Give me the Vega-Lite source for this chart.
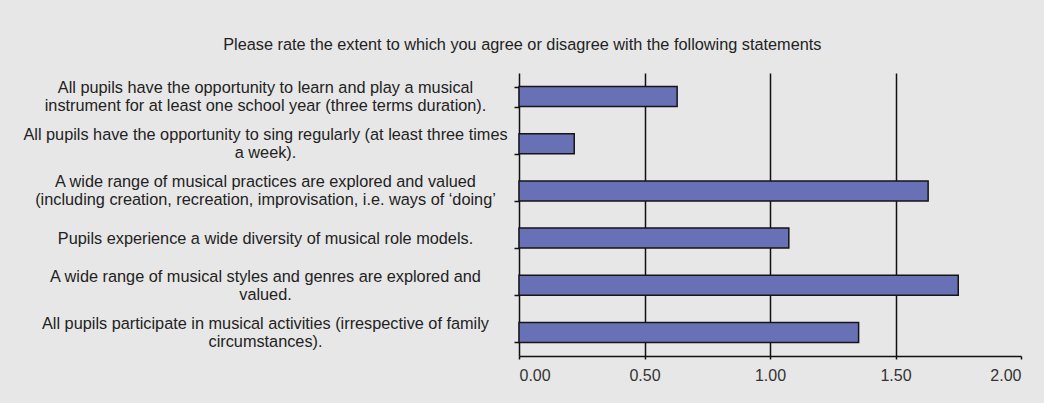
{
  "$schema": "https://vega.github.io/schema/vega-lite/v6.json",
  "width": 502,
  "height": 283,
  "autosize": {"type": "none"},
  "padding": {"left": 519, "top": 73, "right": 23, "bottom": 47},
  "background": "#e7e7e7",
  "title": {
    "text": "Please rate the extent to which you agree or disagree with the following statements",
    "anchor": "middle",
    "frame": "bounds",
    "font": "Liberation Sans",
    "fontSize": 16.3,
    "fontWeight": "normal",
    "color": "#222222",
    "offset": 12
  },
  "data": {
    "values": [
      {"statement": "All pupils have the opportunity to learn and play a musical\ninstrument for at least one school year (three terms duration).", "score": 0.63},
      {"statement": "All pupils have the opportunity to sing regularly (at least three times\na week).", "score": 0.22},
      {"statement": "A wide range of musical practices are explored and valued\n(including creation, recreation, improvisation, i.e. ways of ‘doing’", "score": 1.63},
      {"statement": "Pupils experience a wide diversity of musical role models.", "score": 1.075},
      {"statement": "A wide range of musical styles and genres are explored and\nvalued.", "score": 1.75},
      {"statement": "All pupils participate in musical activities (irrespective of family\ncircumstances).", "score": 1.353}
    ]
  },
  "mark": {"type": "bar", "fill": "#6871b6", "stroke": "#151515", "strokeWidth": 1.5},
  "encoding": {
    "y": {
      "field": "statement",
      "type": "nominal",
      "sort": null,
      "scale": {"paddingInner": 0.575, "paddingOuter": 0.2875},
      "axis": {
        "title": null,
        "labelExpr": "isValid(datum.value) ? split(datum.value, '\\n') : ''",
        "labelOffset": {"condition": {"test": "isValid(datum.value) && indexof(datum.value, '\\n') >= 0", "value": -9}, "value": 0},
        "labelFont": "Liberation Sans",
        "labelFontSize": 16.3,
        "labelColor": "#222222",
        "labelLineHeight": 18,
        "labelLimit": 0,
        "labelAlign": "center",
        "labelPadding": 249,
        "tickBand": "extent",
        "tickSize": 5,
        "tickColor": "#111111",
        "tickWidth": 1.5,
        "domainColor": "#111111",
        "domainWidth": 1.5,
        "grid": false
      }
    },
    "x": {
      "field": "score",
      "type": "quantitative",
      "scale": {"domain": [0, 2], "nice": false, "zero": true},
      "axis": {
        "title": null,
        "values": [0, 0.5, 1, 1.5, 2],
        "format": ".2f",
        "labelFont": "Liberation Sans",
        "labelFontSize": 16,
        "labelColor": "#333333",
        "labelPadding": 8,
        "tickSize": 3,
        "tickColor": "#111111",
        "tickWidth": 1.5,
        "domainColor": "#111111",
        "domainWidth": 1.5,
        "grid": true,
        "gridColor": {"condition": {"test": "datum.value == 2 || datum.value == 0", "value": "transparent"}, "value": "#111111"},
        "gridWidth": 1.5,
        "gridOpacity": 1
      }
    }
  },
  "config": {
    "view": {"stroke": null}
  }
}
